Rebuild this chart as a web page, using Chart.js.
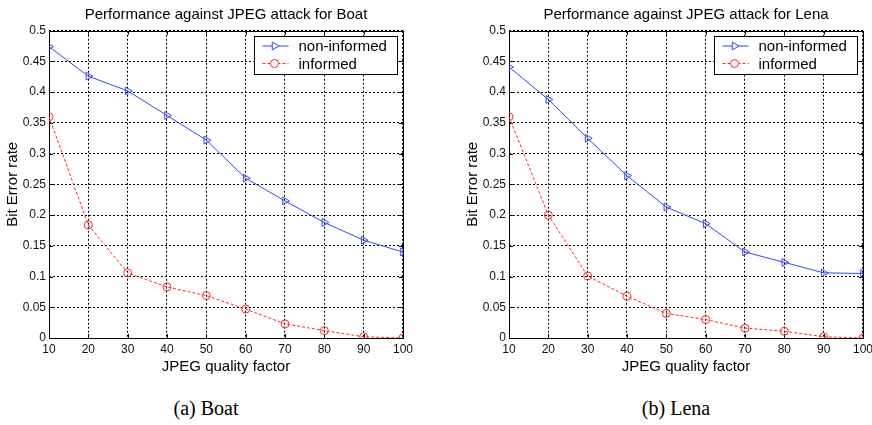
<!doctype html>
<html>
  <head>
    <title>JPEG attack performance</title>
    <script src="https://cdn.jsdelivr.net/npm/chart.js"></script>
    <style>
      body {
        margin: 0;
        background: #fff;
        width: 872px;
        height: 425px;
        position: relative;
        overflow: hidden;
      }
      .plot {
        position: absolute;
        top: 0;
        width: 417px;
        height: 390px;
      }
      .caption {
        position: absolute;
        top: 397px;
        width: 200px;
        text-align: center;
        font-family: 'Liberation Serif', 'Times New Roman', serif;
        font-size: 20px;
        color: #000;
      }
    </style>
  </head>
  <body>
    <div class="plot" style="left: 0"><canvas id="boat" width="417" height="390"></canvas></div>
    <div class="plot" style="left: 460px"><canvas id="lena" width="417" height="390"></canvas></div>
    <div class="caption" style="left: 106px">(a) Boat</div>
    <div class="caption" style="left: 576px">(b) Lena</div>

    <script>
      const qualityFactors = [10, 20, 30, 40, 50, 60, 70, 80, 90, 100];
      const boatNonInformed = [0.474, 0.426, 0.402, 0.362, 0.322, 0.26, 0.223, 0.188, 0.159, 0.14];
      const boatInformed = [0.36, 0.184, 0.106, 0.083, 0.069, 0.047, 0.023, 0.012, 0.002, 0.0];
      const lenaNonInformed = [0.441, 0.388, 0.325, 0.264, 0.213, 0.186, 0.14, 0.123, 0.106, 0.105];
      const lenaInformed = [0.36, 0.2, 0.101, 0.068, 0.04, 0.03, 0.016, 0.011, 0.002, 0.0];
      const yTicks = [0, 0.05, 0.1, 0.15, 0.2, 0.25, 0.3, 0.35, 0.4, 0.45, 0.5];

      const textFont = "'Liberation Sans', Arial, sans-serif";
      const tickFont = "'Liberation Sans Narrow', 'Liberation Sans', Arial, sans-serif";

      // matlab style box, inward ticks and legend
      const matlabAxes = {
        id: 'matlabAxes',
        beforeDatasetsDraw(chart) {
          const { ctx, chartArea: a, scales } = chart;
          ctx.save();
          ctx.strokeStyle = '#000';
          ctx.lineWidth = 1;
          ctx.setLineDash([]);
          ctx.beginPath();
          scales.x.ticks.forEach((t) => {
            const px = Math.round(scales.x.getPixelForValue(t.value)) + 0.5;
            ctx.moveTo(px, a.bottom); ctx.lineTo(px, a.bottom - 4);
            ctx.moveTo(px, a.top); ctx.lineTo(px, a.top + 4);
          });
          scales.y.ticks.forEach((t) => {
            const py = Math.round(scales.y.getPixelForValue(t.value)) + 0.5;
            ctx.moveTo(a.left, py); ctx.lineTo(a.left + 4, py);
            ctx.moveTo(a.right, py); ctx.lineTo(a.right - 4, py);
          });
          ctx.stroke();
          ctx.strokeRect(Math.round(a.left) + 0.5, Math.round(a.top) + 0.5,
            Math.round(a.right - a.left), Math.round(a.bottom - a.top));
          ctx.restore();
        },
        afterDraw(chart) {
          const { ctx, chartArea: a } = chart;
          const x0 = Math.round(a.right - 149) + 0.5;
          const y0 = Math.round(a.top + 5) + 0.5;
          ctx.save();
          ctx.fillStyle = '#fff';
          ctx.fillRect(x0, y0, 143, 38);
          ctx.strokeStyle = '#000';
          ctx.lineWidth = 1;
          ctx.strokeRect(x0, y0, 143, 38);
          ctx.font = '15px ' + textFont;
          ctx.textBaseline = 'middle';
          chart.data.datasets.forEach((ds, i) => {
            const y = y0 + 9.5 + i * 17.5;
            ctx.strokeStyle = ds.borderColor;
            ctx.setLineDash(ds.borderDash || []);
            ctx.beginPath();
            ctx.moveTo(x0 + 8, y);
            ctx.lineTo(x0 + 34, y);
            ctx.stroke();
            ctx.setLineDash([]);
            ctx.fillStyle = '#fff';
            ctx.strokeStyle = ds.pointBorderColor;
            ctx.lineWidth = 1;
            Chart.helpers.drawPoint(ctx, {
              pointStyle: ds.pointStyle,
              rotation: ds.pointRotation || 0,
              radius: ds.pointRadius,
              borderWidth: 1,
            }, x0 + 20, y);
            ctx.fillStyle = '#000';
            ctx.fillText(ds.label, x0 + 44, y + 1);
          });
          ctx.restore();
        },
      };

      function makeChart(canvasId, titleText, nonInformed, informed) {
        const toPoints = (vals) => qualityFactors.map((q, i) => ({ x: q, y: vals[i] }));
        new Chart(document.getElementById(canvasId), {
          type: 'line',
          data: {
            datasets: [
              {
                label: 'non-informed',
                data: toPoints(nonInformed),
                borderColor: '#3446ff',
                backgroundColor: 'transparent',
                borderWidth: 1,
                pointStyle: 'triangle',
                pointRotation: 90,
                pointRadius: 4.5,
                pointBorderColor: '#3446ff',
                pointBackgroundColor: 'transparent',
                pointBorderWidth: 1,
                tension: 0,
              },
              {
                label: 'informed',
                data: toPoints(informed),
                borderColor: '#ff2a2a',
                backgroundColor: 'transparent',
                borderWidth: 1,
                borderDash: [3, 2],
                pointStyle: 'circle',
                pointRadius: 4,
                pointBorderColor: '#ff2a2a',
                pointBackgroundColor: 'transparent',
                pointBorderWidth: 1,
                tension: 0,
              },
            ],
          },
          options: {
            responsive: false,
            animation: false,
            devicePixelRatio: 1,
            layout: { padding: { left: 0, right: 5, top: 0, bottom: 0 } },
            plugins: {
              legend: { display: false },
              tooltip: { enabled: false },
              title: {
                display: true,
                text: titleText,
                fullSize: false,
                color: '#000',
                font: { family: textFont, size: 15, weight: 'normal', lineHeight: 1.2 },
                padding: { top: 6, bottom: 6.7 },
              },
            },
            scales: {
              x: {
                type: 'linear',
                min: 10,
                max: 100,
                afterFit: (s) => { s.height = 52; },
                afterBuildTicks: (s) => { s.ticks = qualityFactors.map((v) => ({ value: v })); },
                ticks: {
                  color: '#111',
                  padding: 4,
                  maxRotation: 0,
                  font: { family: tickFont, size: 12 },
                },
                grid: {
                  color: '#000',
                  drawTicks: false,
                },
                border: { display: false, dash: [2, 2] },
                title: {
                  display: true,
                  text: 'JPEG quality factor',
                  color: '#000',
                  font: { family: textFont, size: 15, lineHeight: 1.2 },
                  padding: { top: 0, bottom: 14 },
                },
              },
              y: {
                min: 0,
                max: 0.5,
                afterFit: (s) => { s.width = 49; },
                afterBuildTicks: (s) => { s.ticks = yTicks.map((v) => ({ value: v })); },
                ticks: {
                  color: '#111',
                  padding: 3,
                  font: { family: tickFont, size: 12 },
                  callback: (v) => String(+v.toFixed(2)),
                },
                grid: {
                  color: '#000',
                  drawTicks: false,
                },
                border: { display: false, dash: [2, 2] },
                title: {
                  display: true,
                  text: 'Bit Error rate',
                  color: '#000',
                  font: { family: textFont, size: 15, lineHeight: 1.2 },
                  padding: { top: 4, bottom: 0 },
                },
              },
            },
          },
          plugins: [matlabAxes],
        });
      }

      makeChart('boat', 'Performance against JPEG attack for Boat', boatNonInformed, boatInformed);
      makeChart('lena', 'Performance against JPEG attack for Lena', lenaNonInformed, lenaInformed);
    </script>
  </body>
</html>
